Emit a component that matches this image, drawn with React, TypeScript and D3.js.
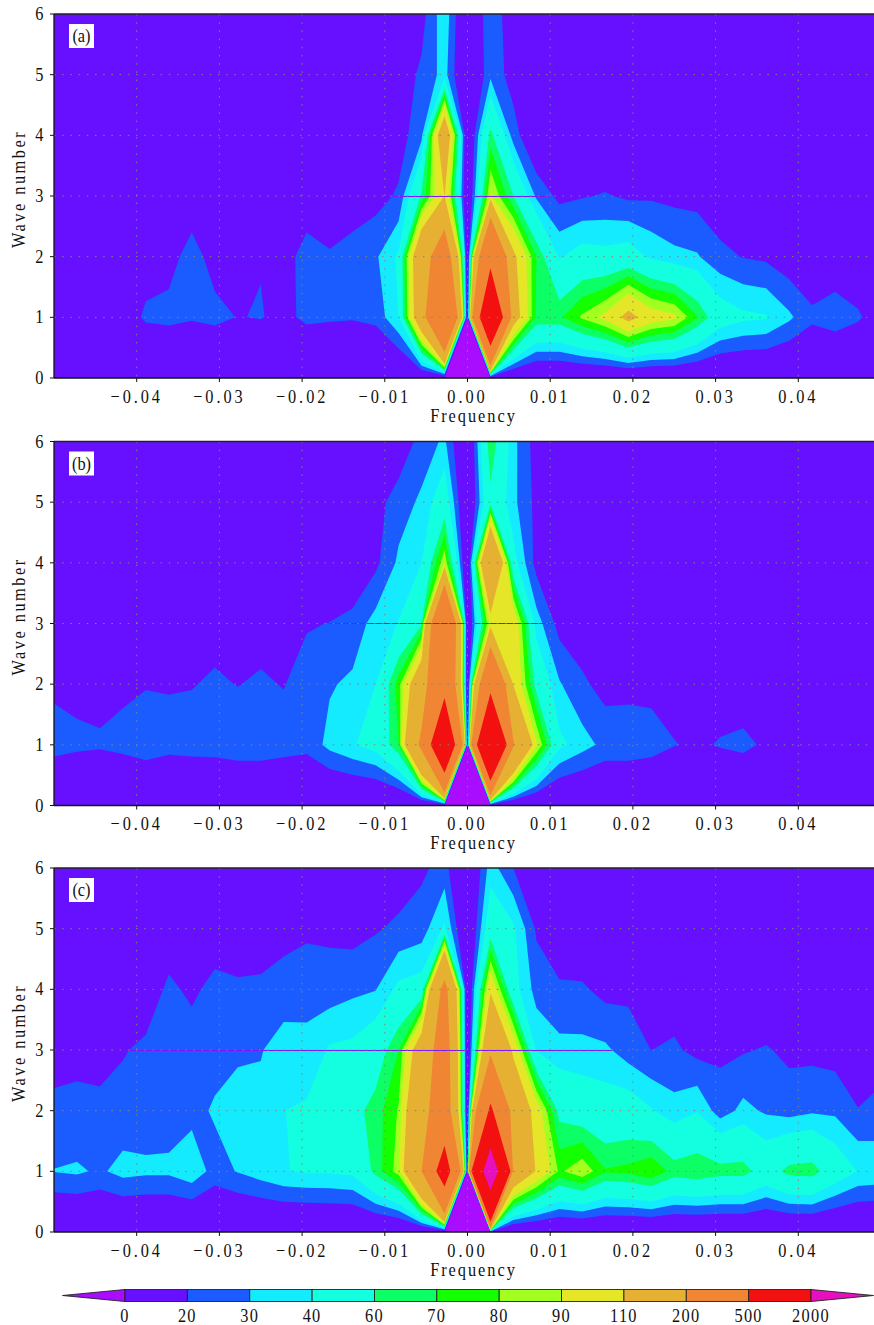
import React from "react";
import * as d3 from "d3";

const levels = [0, 20, 30, 40, 60, 70, 80, 90, 110, 200, 500, 2000];
const belowColor = "#A80DFF";
const bandColors = ["#6610FF", "#1A5CFF", "#14EBFF", "#14FFE0", "#0DFF66", "#14FF00", "#A3FF1F", "#E6E629", "#E6B033", "#F08533", "#F21010", "#E610BF"];
const frequencies = d3.range(-18, 19).map((k) => k / 360);
const waveNumbers = [0, 1, 2, 3, 4, 5, 6];
const xTicks = [-0.04, -0.03, -0.02, -0.01, 0, 0.01, 0.02, 0.03, 0.04];
const yTicks = [0, 1, 2, 3, 4, 5, 6];

const a_w0 = [3,3,3,3,2,1,1,1,1,1,1,1,1,1,1,1,1,0.3, -100, 0.3,1,1,1,1,1,1,1,1,1,1,1,1,1,5,7,2,3];
const a_w1 = [10,12,13,14,21.7,23,21.1,23,19.6,20.6,17,22.5,21.5,21,23,40,145,465, 0.1, 943,127,68,68,82,94,118,99,93,71,48,42.6,41,32,22,24,21.5,14];
const a_w2 = [8,8,9,10,15.3,16.5,24,16,15,19.5,16,24,21,25.6,28.4,42,150,274, 3, 396,116,70,39,46,44,47,38,33,31,23,19.5,18,13,12,14.5,11,10];
const a_w3 = [8,8,8,8,8,8,14,10,9,9,9,14,13,12,16,21.5,62,110.3, 1, 92,60,28,17,19,21,18,18.5,17,16,12,10,10,8,8,8,8,8];
const a_w4 = [8,8,8,8,8,8,8,8,8,8,8,8,8,8,8,15,27,145, 1, 64,25,7,7,7,7,8,6,6,6,6,6,6,6,6,6,6,6];
const a_w5 = [7,7,7,7,7,7,7,7,7,7,7,7,7,7,7,14,22,34, 1, 27.5,15,7,7,7,7,7,7,7,7,7,7,7,7,7,7,7,7];
const a_w6 = [7,7,7,7,7,7,7,7,7,7,7,7,7,7,7,7,16,37, 2.4, 28.5,11.5,6,6,6,6,6,6,6,6,6,6,6,6,6,6,6,6];

const b_w0 = [0.5,0.5,0.5,0.5,0.5,0.5,0.5,0.5,0.5,0.5,0.5,0.5,0.5,0.5,0.5,0.5,0.5,0.3, -100, 0.3,0.5,0.5,0.5,0.5,0.5,0.5,0.5,0.5,0.5,0.5,0.5,0.5,0.5,0.5,0.5,0.5,0.5];
const b_w1 = [24.7,22.5,21.5,23.5,26.6,23.8,24.6,25,27,27,25,23.5,33,39,45,70,220,926, 0.1, 1220,206,92,43,34,27,27,25,20.5,18,21,23,18,15,14,13,13,12];
const b_w2 = [17.8,16.7,16,17.7,19.3,19.2,19.5,21.5,19.7,21.5,19.5,25,29,32,40,75,145,373, 3, 373,108,55,31,22,16,16.5,16.7,15,12,13.3,12,10,9,9,9,9,9];
const b_w3 = [10,10,10,10,11,11,11,16,12,15.5,12,19,20.3,24,34,40.5,58,400, 1, 94,105,35,16,13,10,9,7,7,7,7,7,7,7,7,7,7,7];
const b_w4 = [8,8,8,8,8,8,8,8,8,8,8,8,8,8,17.5,32,40,88, 1, 190,45,16,8,6,6,6,6,6,6,6,6,6,6,6,6,6,6];
const b_w5 = [7,7,7,7,7,7,7,7,7,7,7,7,7,7,16,25,32,50, 1, 56,32.5,17,8,6,6,6,6,6,6,6,6,6,6,6,6,6,6];
const b_w6 = [7,7,7,7,7,7,7,7,7,7,7,7,7,7,7,12,24,32, 0.5, 69,33,15,6,6,6,6,6,6,6,6,6,6,6,6,6,6,6];

const c_w0 = [0.5,0.5,0.5,0.5,0.5,0.5,0.5,0.5,0.5,0.5,0.5,0.5,0.5,0.5,0.5,0.5,0.5,0.3, -100, 0.3,0.5,0.5,0.5,0.5,0.5,0.5,0.5,0.5,0.5,0.5,0.5,0.5,0.5,0.5,0.5,0.5,0.5];
const c_w1 = [30.3,31.6,28.4,33.5,32,32,37,26,30.6,35,39.6,41,41.5,43,64,85,200,667, 0.1, 2900,150,108,78,88,71,73,79,66,69,65,65,52,64,65.5,50,39.5,38];
const c_w2 = [23,21.6,24,23.3,24.6,25.5,26.7,31.3,31.5,31.8,39.8,42,44,55,65,81,166,270, 3, 545,142,100,56,50,47,48,41,33.5,39.4,24.8,33,28.5,25.8,28.5,28,20.5,22];
const c_w3 = [15,18.3,14,19.3,22,24,25,26,29.4,29.6,33,31.5,41.5,43,51,70,135,260, 1, 170,105,39,33,33,32,25,19.9,22,16.6,18,19,21,17.5,17,15.7,11,17];
const c_w4 = [10,10,12,13,14,22,18,23,21.5,22,26.5,28.2,24.8,27.7,29.5,43,46,230, 1, 106,45,26,22,21.5,16.5,18,12,13,9,9,9,9,7,7,7,7,7];
const c_w5 = [7,7,7,7,7,14,10,14,14,14,14.5,17.4,17.8,16,19,22,25,42, 1, 51,42,18.5,10,10,8,7,7,7,7,7,7,7,7,7,7,7,7];
const c_w6 = [8,8,8,8,8,8,8,8,8,8,8,8,8,8,8,14,18,24, 0.5, 35,20,8,7,7,7,7,7,7,7,7,7,7,7,7,7,7,7];

const a_seam = [[-0.009, -0.00054], [0.0009, 0.00998]];
const b_seam = [[-0.01687, -0.00018], [0.0009, 0.01058]];
const c_seam = [[-0.04105, -0.0003], [0.0009, 0.01747]];

const panelA = [a_w0, a_w1, a_w2, a_w3, a_w4, a_w5, a_w6];
const panelB = [b_w0, b_w1, b_w2, b_w3, b_w4, b_w5, b_w6];
const panelC = [c_w0, c_w1, c_w2, c_w3, c_w4, c_w5, c_w6];

const FONT = "'Liberation Serif', serif";
const LEFT = 54;
const RIGHT = 881;
const HEIGHT = 364;

function fmtTick(t: number) {
  const s = Math.abs(t).toFixed(2);
  return t < 0 ? "\u2212" + s : s;
}

function Label({ x, y, anchor = "middle", spacing = 0, rotate = 0, children }: { x: number; y: number; anchor?: string; spacing?: number; rotate?: number; children: React.ReactNode }) {
  return (
    <text
      transform={`translate(${x},${y}) rotate(${rotate}) scale(0.86,1)`}
      textAnchor={anchor}
      fontFamily={FONT}
      fontSize={19}
      letterSpacing={spacing}
      fill="#111"
    >
      {children}
    </text>
  );
}

function Panel({ id, top, rows, seam, label }: { id: string; top: number; rows: number[][]; seam: number[][]; label: string }) {
  const x = d3.scaleLinear().domain([-0.05, 0.05]).range([LEFT, RIGHT]);
  const y = d3.scaleLinear().domain([0, 6]).range([top + HEIGHT, top]);
  const flat = rows.flat();
  const nx = frequencies.length;
  const ny = waveNumbers.length;
  const polys = d3.contours().size([nx, ny]).smooth(true).thresholds(levels)(flat);
  const projection = d3.geoTransform({
    point(px: number, py: number) {
      const fi = px - 0.5;
      const f = frequencies[0] + (fi * (frequencies[nx - 1] - frequencies[0])) / (nx - 1);
      (this as any).stream.point(x(f), y(py - 0.5));
    },
  });
  const path = d3.geoPath(projection);
  const bottom = top + HEIGHT;
  const seamY = Math.floor(y(3)) + 0.5;
  return (
    <g>
      <defs>
        <clipPath id={id}>
          <rect x={LEFT} y={top} width={RIGHT - LEFT} height={HEIGHT} />
        </clipPath>
      </defs>
      <g clipPath={`url(#${id})`}>
        <rect x={LEFT} y={top} width={RIGHT - LEFT} height={HEIGHT} fill={belowColor} />
        {polys.map((p: any, i: number) => (
          <path key={i} d={path(p) || ""} fill={bandColors[i]} fillRule="evenodd" stroke="none" />
        ))}
        {seam.map((s, i) => (
          <line key={i} x1={x(s[0])} x2={x(s[1])} y1={seamY} y2={seamY} stroke="#8012FF" strokeWidth={1} />
        ))}
        {xTicks.map((t) => (
          <line key={t} x1={x(t)} x2={x(t)} y1={top} y2={bottom} stroke="#808878" strokeWidth={1} strokeDasharray="1.5 6.7" />
        ))}
        {yTicks.slice(1, -1).map((t) => (
          <line key={t} x1={LEFT} x2={RIGHT} y1={y(t)} y2={y(t)} stroke="#808878" strokeWidth={1} strokeDasharray="1.5 6.7" />
        ))}
      </g>
      <line x1={LEFT} x2={RIGHT} y1={top} y2={top} stroke="#222" strokeWidth={1.3} />
      <line x1={LEFT} x2={RIGHT} y1={bottom} y2={bottom} stroke="#111" strokeWidth={1.3} />
      <line x1={LEFT} x2={LEFT} y1={top} y2={bottom} stroke="#111" strokeWidth={1.3} />
      {xTicks.map((t) => (
        <g key={t}>
          <line x1={x(t)} x2={x(t)} y1={bottom} y2={bottom + 4} stroke="#111" strokeWidth={1} />
          <Label x={x(t)} y={bottom + 24.5} spacing={3.4}>
            {fmtTick(t)}
          </Label>
        </g>
      ))}
      {yTicks.map((t) => (
        <g key={t}>
          <line x1={LEFT - 4} x2={LEFT} y1={y(t)} y2={y(t)} stroke="#111" strokeWidth={1} />
          <Label x={43.5} y={y(t) + 6} anchor="end">
            {t}
          </Label>
        </g>
      ))}
      <Label x={473.5} y={bottom + 43.5} spacing={2.3}>
        Frequency
      </Label>
      <Label x={25} y={top + 175} rotate={-90} spacing={2.9}>
        Wave number
      </Label>
      <rect x={69} y={top + 10} width={25} height={24} fill="#fff" />
      <Label x={81.5} y={top + 28}>
        {label}
      </Label>
    </g>
  );
}

function ColorBar() {
  const x = d3.scaleLinear().domain([0, levels.length - 1]).range([125, 811]);
  const top = 1289.5;
  const bottom = 1301.5;
  const mid = (top + bottom) / 2;
  return (
    <g>
      <polygon points={`${x(0)},${top} ${x(0)},${bottom} 62.5,${mid}`} fill={belowColor} stroke="#222" strokeWidth={0.9} />
      {bandColors.slice(0, -1).map((c, i) => (
        <rect key={i} x={x(i)} y={top} width={x(i + 1) - x(i)} height={bottom - top} fill={c} stroke="#222" strokeWidth={0.9} />
      ))}
      <polygon points={`${x(levels.length - 1)},${top} ${x(levels.length - 1)},${bottom} 873.5,${mid}`} fill={bandColors[bandColors.length - 1]} stroke="#222" strokeWidth={0.9} />
      {levels.map((l, i) => (
        <Label key={l} x={x(i)} y={1321.5} spacing={1.5}>
          {l}
        </Label>
      ))}
    </g>
  );
}

export default function App() {
  return (
    <svg width={874} height={1325} viewBox="0 0 874 1325" style={{ position: "absolute", left: 0, top: 0, background: "#fff" }}>
      <Panel id="pa" top={14} rows={panelA} seam={a_seam} label="(a)" />
      <Panel id="pb" top={441.5} rows={panelB} seam={b_seam} label="(b)" />
      <Panel id="pc" top={868} rows={panelC} seam={c_seam} label="(c)" />
      <ColorBar />
    </svg>
  );
}
